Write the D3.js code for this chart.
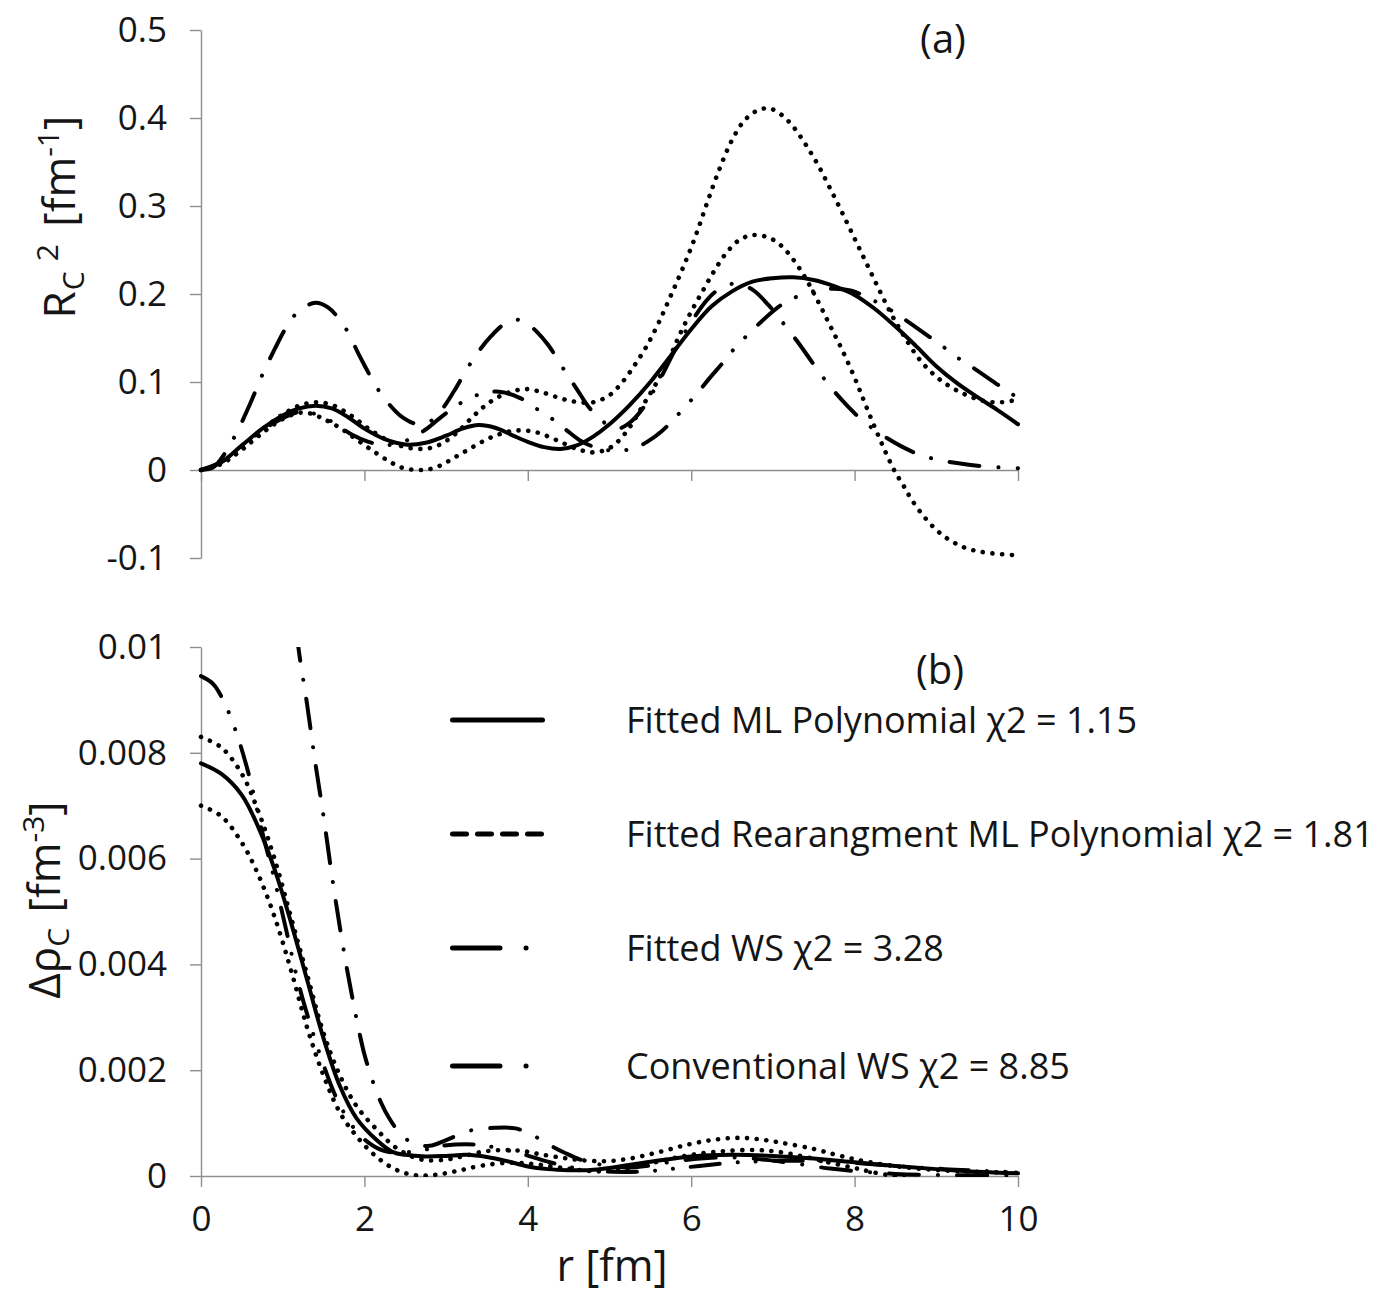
<!DOCTYPE html>
<html>
<head>
<meta charset="utf-8">
<script src="https://cdn.jsdelivr.net/npm/d3@7"></script>
<style>
  html, body { margin: 0; padding: 0; background: #fff; }
  svg { display: block; }
  text { font-family: "Open Sans", "DejaVu Sans", sans-serif; fill: #151515; }
</style>
</head>
<body>
<svg id="chart" width="1392" height="1296"></svg>
<script>
// ---------- data: r [fm] vs value ----------
const rTicks = [0, 2, 4, 6, 8, 10];
const yTicksA = [-0.1, 0, 0.1, 0.2, 0.3, 0.4, 0.5];
const yTicksB = [0, 0.002, 0.004, 0.006, 0.008, 0.01];

// (a) R_C^2 [fm^-1]
const mlPolyA = [[0,0],[0.25,0.009],[0.5,0.028],[0.75,0.047],[1.0,0.062],[1.2,0.07],[1.4,0.073],[1.6,0.07],[1.8,0.06],[2.0,0.047],[2.25,0.035],[2.5,0.029],[2.75,0.031],[3.0,0.039],[3.2,0.047],[3.4,0.051],[3.6,0.048],[3.8,0.04],[4.0,0.032],[4.2,0.026],[4.4,0.024],[4.6,0.028],[4.8,0.038],[5.0,0.052],[5.25,0.074],[5.5,0.1],[5.75,0.13],[6.0,0.16],[6.25,0.186],[6.5,0.203],[6.75,0.214],[7.0,0.218],[7.25,0.219],[7.5,0.216],[7.75,0.209],[8.0,0.199],[8.25,0.183],[8.5,0.163],[8.75,0.141],[9.0,0.118],[9.25,0.099],[9.5,0.083],[9.75,0.068],[10,0.052]];
const rearrUpperA = [[0,0],[0.25,0.008],[0.5,0.026],[0.75,0.046],[1.0,0.063],[1.2,0.073],[1.4,0.077],[1.6,0.074],[1.85,0.061],[2.05,0.047],[2.3,0.033],[2.5,0.026],[2.7,0.024],[2.85,0.026],[3.0,0.033],[3.15,0.044],[3.3,0.058],[3.45,0.071],[3.62,0.082],[3.8,0.089],[3.97,0.092],[4.15,0.089],[4.35,0.083],[4.55,0.078],[4.8,0.077],[5.0,0.085],[5.15,0.099],[5.3,0.118],[5.45,0.14],[5.6,0.167],[5.75,0.198],[5.9,0.23],[6.05,0.265],[6.2,0.305],[6.35,0.343],[6.5,0.375],[6.65,0.397],[6.8,0.408],[6.95,0.411],[7.1,0.404],[7.25,0.39],[7.4,0.37],[7.55,0.347],[7.7,0.32],[7.85,0.292],[8.0,0.263],[8.15,0.234],[8.3,0.205],[8.45,0.177],[8.6,0.153],[8.8,0.125],[9.0,0.106],[9.2,0.093],[9.4,0.084],[9.6,0.078],[9.8,0.077],[10,0.08]];
const rearrLowerA = [[0,0],[0.25,0.007],[0.5,0.023],[0.75,0.042],[1.0,0.058],[1.2,0.065],[1.35,0.064],[1.5,0.058],[1.7,0.048],[1.9,0.035],[2.1,0.022],[2.3,0.01],[2.45,0.003],[2.65,0.0],[2.8,0.001],[2.95,0.006],[3.1,0.014],[3.25,0.022],[3.4,0.03],[3.55,0.037],[3.7,0.042],[3.87,0.045],[4.1,0.043],[4.35,0.034],[4.6,0.024],[4.8,0.02],[4.98,0.024],[5.1,0.032],[5.25,0.049],[5.4,0.072],[5.55,0.095],[5.7,0.12],[5.85,0.152],[6.0,0.18],[6.15,0.205],[6.3,0.229],[6.45,0.249],[6.6,0.262],[6.76,0.267],[6.95,0.264],[7.1,0.255],[7.25,0.239],[7.4,0.218],[7.55,0.192],[7.7,0.164],[7.85,0.136],[8.0,0.105],[8.1,0.082],[8.2,0.059],[8.3,0.037],[8.4,0.016],[8.5,-0.003],[8.6,-0.018],[8.7,-0.034],[8.85,-0.053],[9.0,-0.068],[9.17,-0.08],[9.37,-0.089],[9.62,-0.094],[10,-0.097]];
const fittedWsA = [[0,0],[0.25,0.009],[0.5,0.027],[0.75,0.045],[1.0,0.059],[1.2,0.066],[1.35,0.065],[1.6,0.055],[1.85,0.04],[2.05,0.032],[2.25,0.028],[2.5,0.033],[2.75,0.046],[2.95,0.061],[3.1,0.071],[3.25,0.08],[3.45,0.087],[3.65,0.089],[3.9,0.082],[4.1,0.07],[4.27,0.06],[4.45,0.047],[4.65,0.033],[4.85,0.025],[5.05,0.022],[5.28,0.024],[5.46,0.032],[5.65,0.045],[5.8,0.059],[6.08,0.088],[6.23,0.105],[6.37,0.12],[6.51,0.136],[6.84,0.167],[7.11,0.188],[7.32,0.198],[7.54,0.204],[7.75,0.206],[7.95,0.204],[8.16,0.196],[8.4,0.184],[8.6,0.172],[8.92,0.151],[9.1,0.139],[9.27,0.127],[9.47,0.115],[9.8,0.094],[10,0.082]];
const convWsA = [[0,0],[0.15,0.003],[0.3,0.02],[0.45,0.045],[0.6,0.075],[0.75,0.108],[0.9,0.137],[1.05,0.163],[1.2,0.181],[1.4,0.19],[1.55,0.185],[1.75,0.164],[1.95,0.128],[2.15,0.094],[2.3,0.075],[2.45,0.061],[2.65,0.052],[2.8,0.055],[2.95,0.069],[3.1,0.09],[3.25,0.114],[3.4,0.135],[3.55,0.152],[3.7,0.165],[3.85,0.171],[4.0,0.166],[4.1,0.158],[4.25,0.142],[4.45,0.113],[4.6,0.092],[4.75,0.071],[4.95,0.053],[5.1,0.047],[5.25,0.054],[5.4,0.069],[5.6,0.1],[5.8,0.136],[6.0,0.168],[6.2,0.194],[6.35,0.206],[6.55,0.212],[6.75,0.205],[6.95,0.187],[7.1,0.17],[7.3,0.146],[7.5,0.12],[7.7,0.095],[7.9,0.074],[8.1,0.056],[8.4,0.036],[8.75,0.019],[9.0,0.012],[9.25,0.008],[9.6,0.004],[10,0.002]];

// (b) delta rho_C [fm^-3]
const mlPolyB = [[0,0.0078],[0.25,0.0076],[0.5,0.0072],[0.7,0.0066],[0.9,0.0058],[1.1,0.0048],[1.3,0.0037],[1.5,0.0026],[1.7,0.0017],[1.9,0.0011],[2.15,0.00068],[2.35,0.00045],[2.5,0.0004],[2.75,0.00037],[3.0,0.00038],[3.25,0.0004],[3.5,0.00036],[3.75,0.00028],[4.0,0.00018],[4.25,0.00013],[4.5,0.00011],[4.75,0.00011],[5.0,0.00015],[5.5,0.00027],[6.0,0.00037],[6.5,0.0004],[7.0,0.00038],[7.5,0.00033],[8.0,0.00026],[8.5,0.00019],[9.0,0.00013],[9.5,0.00008],[10,0.00005]];
const rearrUpperB = [[0,0.0083],[0.25,0.0081],[0.5,0.0076],[0.7,0.0069],[0.9,0.006],[1.1,0.0049],[1.3,0.0038],[1.5,0.0027],[1.7,0.0019],[1.9,0.00133],[2.15,0.00088],[2.4,0.00052],[2.7,0.00031],[3.0,0.00031],[3.2,0.00037],[3.45,0.00046],[3.7,0.00049],[3.95,0.00047],[4.15,0.00041],[4.4,0.00035],[4.65,0.0003],[4.95,0.00028],[5.25,0.00033],[5.6,0.00045],[5.95,0.00059],[6.25,0.00068],[6.55,0.00072],[6.8,0.0007],[7.1,0.00063],[7.5,0.00051],[7.8,0.00039],[8.15,0.00027],[8.7,0.00015],[9.3,0.00009],[10,0.00006]];
const rearrLowerB = [[0,0.007],[0.25,0.0068],[0.5,0.0063],[0.7,0.0057],[0.9,0.0049],[1.1,0.0039],[1.3,0.0028],[1.5,0.0019],[1.7,0.0012],[1.9,0.00076],[2.15,0.00036],[2.4,0.00011],[2.65,0.00001],[2.9,0.00003],[3.15,0.0001],[3.45,0.0002],[3.8,0.00025],[4.1,0.00022],[4.4,0.00016],[4.8,0.00009],[5.1,0.00011],[5.4,0.0002],[5.7,0.00031],[6.0,0.0004],[6.4,0.00047],[6.8,0.00049],[7.1,0.00045],[7.4,0.00036],[7.7,0.00025],[8.0,0.00015],[8.2,0.00008],[8.47,0],[8.7,-0.00006],[9.0,-0.00007],[10,-0.00008]];
const fittedWsB = [[0,0.00945],[0.15,0.0093],[0.3,0.0089],[0.45,0.0083],[0.6,0.0075],[0.75,0.0065],[0.9,0.0056],[1.05,0.0046],[1.2,0.0036],[1.35,0.0028],[1.5,0.0021],[1.65,0.0015],[1.85,0.00095],[2.05,0.00063],[2.25,0.00047],[2.5,0.00045],[2.75,0.0005],[2.95,0.00057],[3.25,0.0006],[3.45,0.00058],[3.65,0.00052],[3.9,0.00043],[4.27,0.00026],[4.65,0.00013],[5.05,0.00008],[5.46,0.00009],[5.8,0.00014],[6.1,0.00019],[6.5,0.00025],[6.85,0.00028],[7.3,0.00029],[7.75,0.00027],[8.15,0.00023],[8.6,0.00018],[9.1,0.00013],[9.5,0.0001],[10,0.00007]];
const convWsB = [[1.17,0.0103],[1.2,0.0099],[1.3,0.0089],[1.4,0.0078],[1.5,0.0068],[1.6,0.0057],[1.7,0.0047],[1.8,0.0038],[1.9,0.003],[2.0,0.0023],[2.1,0.0018],[2.2,0.0014],[2.3,0.0011],[2.45,0.00078],[2.6,0.00062],[2.8,0.00057],[3.0,0.00068],[3.3,0.00086],[3.6,0.00091],[3.85,0.0009],[4.05,0.00078],[4.25,0.0006],[4.45,0.00044],[4.7,0.00028],[5.0,0.00019],[5.2,0.00016],[5.5,0.0002],[5.8,0.00028],[6.2,0.00034],[6.55,0.00035],[6.95,0.0003],[7.3,0.00023],[7.7,0.00014],[8.1,0.00008],[8.5,0.00004],[9.0,0.00002],[10,0.00001]];

const legendLabels = [
  "Fitted ML Polynomial \u03c72 = 1.15",
  "Fitted Rearangment ML Polynomial \u03c72 = 1.81",
  "Fitted WS \u03c72 = 3.28",
  "Conventional WS \u03c72 = 8.85"
];

// ---------- line styles ----------
const styles = {
  solid:  { width: 4,   dash: null },
  dotted: { width: 4.6, dash: "0.1 9.6" },
  ws:     { width: 4,   dash: "29 18 0.1 18 0.1 18" },
  conv:   { width: 4,   dash: "30 19 0.1 19" }
};

// ---------- layout ----------
const svg = d3.select("#chart");
svg.append("rect").attr("width", 1392).attr("height", 1296).attr("fill", "#fff");

const x = d3.scaleLinear().domain([0, 10]).range([201, 1018]);
const yA = d3.scaleLinear().domain([-0.1, 0.5]).range([558, 30]);
const yB = d3.scaleLinear().domain([0, 0.01]).range([1176, 647]);

const axisColor = "#8e8e8e";
const tickFont = 35;

const defs = svg.append("defs");
defs.append("clipPath").attr("id", "clipA").append("rect")
  .attr("x", x(0) - 3).attr("y", yA(0.5) - 3)
  .attr("width", x(10) - x(0) + 6).attr("height", yA(-0.1) - yA(0.5) + 6);
defs.append("clipPath").attr("id", "clipB").append("rect")
  .attr("x", x(0) - 3).attr("y", yB(0.01))
  .attr("width", x(10) - x(0) + 6).attr("height", yB(0) - yB(0.01) + 1);

function fmt(d) { return d === 0 ? "0" : String(+d.toFixed(3)); }

function styleAxis(g) {
  g.selectAll("path.domain").attr("stroke", axisColor).attr("stroke-width", 1.4);
  g.selectAll(".tick line").attr("stroke", axisColor).attr("stroke-width", 1.4);
  g.selectAll(".tick text").attr("font-size", tickFont)
    .attr("font-family", "'Open Sans', 'DejaVu Sans', sans-serif").attr("fill", "#151515");
}

// panel (a) axes
svg.append("g").attr("transform", `translate(${x(0)},0)`)
  .call(d3.axisLeft(yA).tickValues(yTicksA).tickSize(11).tickSizeOuter(0).tickPadding(23).tickFormat(fmt))
  .call(styleAxis);
svg.append("g").attr("transform", `translate(0,${yA(0)})`)
  .call(d3.axisBottom(x).tickValues(rTicks).tickSize(11).tickSizeOuter(0).tickFormat(""))
  .call(styleAxis);

// panel (b) axes
svg.append("g").attr("transform", `translate(${x(0)},0)`)
  .call(d3.axisLeft(yB).tickValues(yTicksB).tickSize(11).tickSizeOuter(0).tickPadding(23).tickFormat(fmt))
  .call(styleAxis);
svg.append("g").attr("transform", `translate(0,${yB(0)})`)
  .call(d3.axisBottom(x).tickValues(rTicks).tickSize(11).tickSizeOuter(0).tickPadding(19).tickFormat(d3.format("d")))
  .call(styleAxis);

// ---------- curves ----------
function drawSeries(g, data, yScale, st) {
  const line = d3.line()
    .x(d => x(d[0])).y(d => yScale(d[1]))
    .curve(d3.curveCatmullRom.alpha(0.5));
  g.append("path").datum(data)
    .attr("d", line)
    .attr("fill", "none")
    .attr("stroke", "#000")
    .attr("stroke-width", st.width)
    .attr("stroke-linecap", "round")
    .attr("stroke-linejoin", "round")
    .attr("stroke-dasharray", st.dash);
}

const gA = svg.append("g").attr("clip-path", "url(#clipA)");
drawSeries(gA, rearrUpperA, yA, styles.dotted);
drawSeries(gA, rearrLowerA, yA, styles.dotted);
drawSeries(gA, fittedWsA, yA, styles.ws);
drawSeries(gA, convWsA, yA, styles.conv);
drawSeries(gA, mlPolyA, yA, styles.solid);

const gB = svg.append("g").attr("clip-path", "url(#clipB)");
drawSeries(gB, rearrUpperB, yB, styles.dotted);
drawSeries(gB, rearrLowerB, yB, styles.dotted);
drawSeries(gB, fittedWsB, yB, styles.ws);
drawSeries(gB, convWsB, yB, styles.conv);
drawSeries(gB, mlPolyB, yB, styles.solid);

// ---------- panel tags ----------
svg.append("text").attr("x", 943).attr("y", 53).attr("text-anchor", "middle")
  .attr("font-size", 40).text("(a)");
svg.append("text").attr("x", 940).attr("y", 684).attr("text-anchor", "middle")
  .attr("font-size", 40).text("(b)");

// ---------- axis titles ----------
const tA = svg.append("text").attr("transform", "translate(75,217) rotate(-90)")
  .attr("text-anchor", "middle").attr("font-size", 44);
tA.append("tspan").text("R");
tA.append("tspan").attr("font-size", 30).attr("dy", 9).attr("dx", 1).text("C");
tA.append("tspan").attr("font-size", 30).attr("dy", -26).attr("dx", 10).text("2");
tA.append("tspan").attr("dy", 17).attr("dx", 6).text(" [fm");
tA.append("tspan").attr("font-size", 30).attr("dy", -16).text("-1");
tA.append("tspan").attr("dy", 16).text("]");

const tB = svg.append("text").attr("transform", "translate(60,900) rotate(-90)")
  .attr("text-anchor", "middle").attr("font-size", 44);
tB.append("tspan").text("\u0394\u03c1");
tB.append("tspan").attr("font-size", 30).attr("dy", 9).text("C");
tB.append("tspan").attr("dy", -9).attr("dx", 4).text(" [fm");
tB.append("tspan").attr("font-size", 30).attr("dy", -16).text("-3");
tB.append("tspan").attr("dy", 16).text("]");

svg.append("text").attr("x", 612).attr("y", 1281).attr("text-anchor", "middle")
  .attr("font-size", 43).text("r [fm]");

// ---------- legend ----------
const legendStyles = [
  { width: 5, dash: null },
  { width: 5, dash: "14 11" },
  { width: 5, dash: "47.5 26 0.1 28 0.1 200" },
  { width: 5, dash: "47.5 26 0.1 200" }
];
const legendY = [720, 834, 948, 1066];
const lg = svg.append("g");
legendLabels.forEach((lab, i) => {
  lg.append("line")
    .attr("x1", 452.5).attr("x2", 542.5)
    .attr("y1", legendY[i]).attr("y2", legendY[i])
    .attr("stroke", "#000").attr("stroke-width", legendStyles[i].width)
    .attr("stroke-linecap", "round")
    .attr("stroke-dasharray", legendStyles[i].dash);
  lg.append("text").attr("x", 626).attr("y", legendY[i]).attr("dy", "0.35em")
    .attr("font-size", 36).text(lab);
});
</script>
</body>
</html>
